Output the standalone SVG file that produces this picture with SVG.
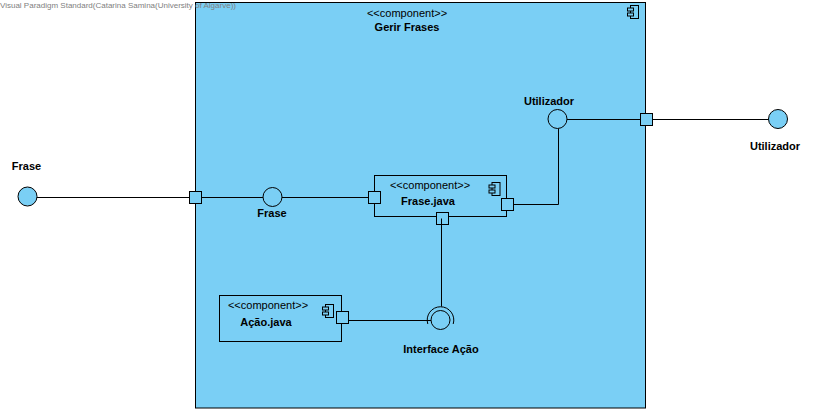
<svg xmlns="http://www.w3.org/2000/svg" xmlns:xlink="http://www.w3.org/1999/xlink" width="817" height="413" viewBox="0 0 817 413">
<style>
.box{fill:#7ACFF5;stroke:#000;stroke-width:1}
.ln{fill:none;stroke:#000;stroke-width:1}
.st{font-family:"Liberation Sans",Arial,sans-serif;font-size:11px;fill:#000;text-anchor:middle}
.nm{font-family:"Liberation Sans",Arial,sans-serif;font-size:11px;font-weight:bold;fill:#000;text-anchor:middle}
.wm{font-family:"Liberation Sans",Arial,sans-serif;font-size:8px;fill:#808080}
</style>
<defs>
<g id="ci">
<rect x="3.5" y="0.5" width="8" height="13" class="box"/>
<rect x="0.5" y="3" width="6" height="3" class="box"/>
<rect x="0.5" y="8" width="6" height="3" class="box"/>
</g>
</defs>
<g id="gerir-frases">
<rect class="box" x="195.5" y="2.5" width="450" height="405.5"/>
<use xlink:href="#ci" x="627" y="5"/>
<text class="st" x="407" y="17">&lt;&lt;component&gt;&gt;</text>
<text class="nm" x="407" y="31">Gerir Frases</text>
</g>
<g id="frase-java">
<rect class="box" x="374.5" y="175.5" width="132" height="41"/>
<use xlink:href="#ci" x="488.5" y="182"/>
<text class="st" x="430" y="189">&lt;&lt;component&gt;&gt;</text>
<text class="nm" x="428" y="205">Frase.java</text>
</g>
<g id="acao-java">
<rect class="box" x="219.5" y="295.5" width="122" height="46"/>
<use xlink:href="#ci" x="322" y="304"/>
<text class="st" x="268" y="309">&lt;&lt;component&gt;&gt;</text>
<text class="nm" x="266" y="326">Ação.java</text>
</g>
<g id="ports">
<rect class="box" x="189.5" y="191.5" width="12" height="12"/>
<rect class="box" x="640.5" y="113.5" width="12" height="12"/>
<rect class="box" x="368.5" y="191.5" width="12" height="12"/>
<rect class="box" x="501.5" y="198.5" width="12" height="12"/>
<rect class="box" x="436.5" y="212.5" width="12" height="12"/>
<rect class="box" x="336.5" y="311.5" width="12" height="12"/>
</g>
<g id="connectors">
<line class="ln" x1="37" y1="197.5" x2="189.5" y2="197.5"/>
<line class="ln" x1="201.5" y1="197.5" x2="263" y2="197.5"/>
<line class="ln" x1="282" y1="197.5" x2="368.5" y2="197.5"/>
<polyline class="ln" points="513.5,204.5 558.5,204.5 558.5,128.5"/>
<line class="ln" x1="567" y1="119.5" x2="640.5" y2="119.5"/>
<line class="ln" x1="652.5" y1="119.5" x2="768.5" y2="119.5"/>
<line class="ln" x1="441.5" y1="218.5" x2="441.5" y2="306.5"/>
<line class="ln" x1="348.5" y1="320.5" x2="431" y2="320.5"/>
</g>
<g id="if-frase-ext">
<circle class="box" cx="27.5" cy="196.5" r="9.5"/>
<text class="nm" x="26.5" y="170">Frase</text>
</g>
<g id="if-frase">
<circle class="box" cx="272.5" cy="197" r="9.5"/>
<text class="nm" x="272" y="217">Frase</text>
</g>
<g id="if-utilizador">
<circle class="box" cx="557.5" cy="119" r="9.5"/>
<text class="nm" x="549" y="105">Utilizador</text>
</g>
<g id="if-utilizador-ext">
<circle class="box" cx="778" cy="119" r="9.5"/>
<text class="nm" x="775" y="150">Utilizador</text>
</g>
<g id="if-acao">
<circle class="box" cx="440.5" cy="320" r="9.5"/>
<path class="ln" d="M427.8,324 A13.3,13.3 0 1 1 453.2,324"/>
<text class="nm" x="441" y="353">Interface Ação</text>
</g>
<text class="wm" x="0" y="8">Visual Paradigm Standard(Catarina Samina(University of Algarve))</text>
</svg>
